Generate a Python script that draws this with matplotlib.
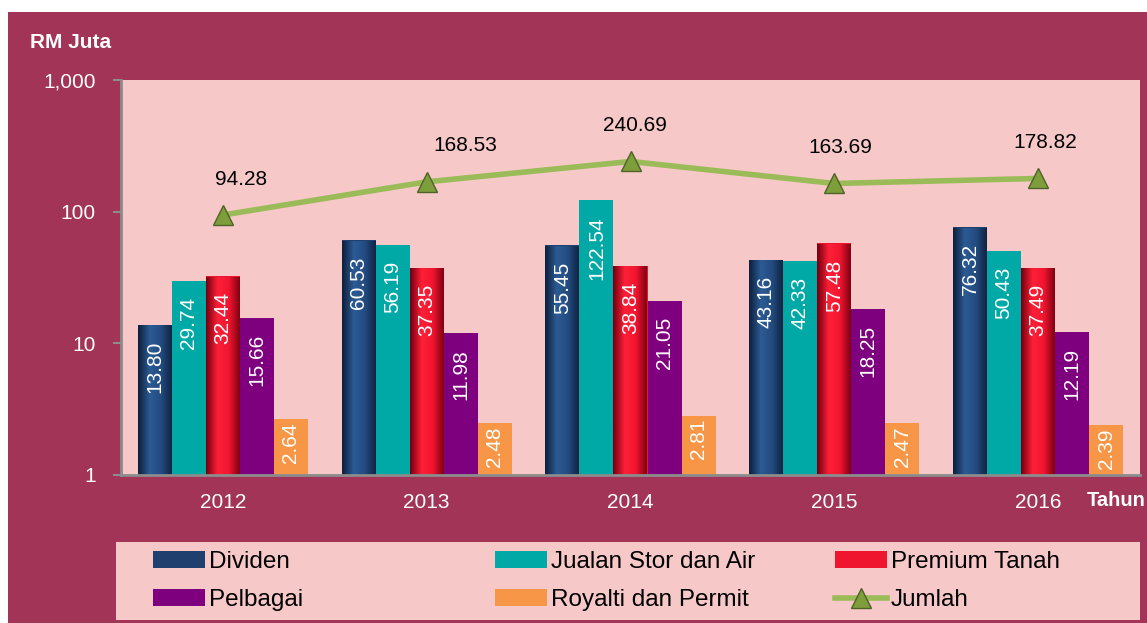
import numpy as np
import matplotlib.pyplot as plt
from matplotlib.patches import Rectangle
from matplotlib.colors import LinearSegmentedColormap

plt.rcParams['font.family'] = ['Liberation Sans', 'DejaVu Sans']

# data
tahun = ['2012', '2013', '2014', '2015', '2016']
dividen = [13.80, 60.53, 55.45, 43.16, 76.32]
jualan = [29.74, 56.19, 122.54, 42.33, 50.43]
premium = [32.44, 37.35, 38.84, 57.48, 37.49]
pelbagai = [15.66, 11.98, 21.05, 18.25, 12.19]
royalti = [2.64, 2.48, 2.81, 2.47, 2.39]
jumlah = [94.28, 168.53, 240.69, 163.69, 178.82]

siri = [
    ('Dividen', dividen, '#1F3F6E'),
    ('Jualan Stor dan Air', jualan, '#00A9A6'),
    ('Premium Tanah', premium, '#F0152F'),
    ('Pelbagai', pelbagai, '#7F007F'),
    ('Royalti dan Permit', royalti, '#F79646'),
]

MAROON = '#A13457'
PINK = '#F7C8C8'

fig = plt.figure(figsize=(11.47, 6.23), dpi=100, facecolor='white')
W, H = 1147, 623
fig.patches.append(Rectangle((8 / W, 0), 1, 1 - 12 / H, transform=fig.transFigure,
                             facecolor=MAROON, edgecolor='none', zorder=-5))
# legend box background
fig.patches.append(Rectangle((116 / W, 1 - 620 / H), (1140 - 116) / W, (620 - 542) / H,
                             transform=fig.transFigure, facecolor=PINK, edgecolor='none',
                             zorder=-4))

ax = fig.add_axes([121 / W, 1 - 475 / H, (1140 - 121) / W, (475 - 80) / H])
ax.set_facecolor(PINK)
ax.set_yscale('log')

x = np.arange(len(tahun))
lebar = 0.167

# gradient for the shaded (cylinder) bars
gradien = {
    'Dividen': ['#0E2240', '#2C5B94', '#234B80', '#0E2240'],
    'Premium Tanah': ['#7A0010', '#FF2038', '#F0152F', '#7A0010'],
}

semua_bar = []
for i, (nama, nilai, warna) in enumerate(siri):
    pos = x + (i - 2) * lebar
    bars = ax.bar(pos, np.array(nilai) - 1, width=lebar, color=warna, bottom=1, label=nama,
                  zorder=2, linewidth=0)
    if nama in gradien:
        cmap = LinearSegmentedColormap.from_list('g', gradien[nama])
        for b in bars:
            x0 = b.get_x()
            img = ax.imshow(np.linspace(0, 1, 64).reshape(1, -1), cmap=cmap, aspect='auto',
                            extent=(x0, x0 + b.get_width(), 1, b.get_y() + b.get_height()),
                            zorder=2.5, interpolation='bilinear')
            img.set_clip_path(b)
    for b, v in zip(bars, nilai):
        tinggi_px = 131 * np.log10(v)
        off = -16 if tinggi_px > 100 else -3
        ax.annotate(f'{v:.2f}', (b.get_x() + b.get_width() / 2, v), xytext=(0, off),
                    textcoords='offset pixels', rotation=90, ha='center', va='top',
                    color='white', fontsize=15, zorder=4)
    semua_bar.append(bars)

garis, = ax.plot(x, jumlah, color='#9BBB59', lw=4, marker='^', markersize=15,
                 markerfacecolor='#7E9E3C', markeredgecolor='#4F6228', markeredgewidth=1,
                 label='Jumlah', zorder=5)
geser = [18, 39, 4, 6, 7]
for xi, v, g in zip(x, jumlah, geser):
    ax.annotate(f'{v:.2f}', (xi, v), xytext=(g, 36), textcoords='offset pixels',
                ha='center', va='center', color='black', fontsize=15, zorder=6)

ax.set_xlim(-0.5, 4.5)
ax.set_ylim(1, 1000)
ax.set_yticks([1, 10, 100, 1000])
ax.set_yticklabels(['1', '10', '100', '1,000'])
ax.yaxis.set_minor_locator(plt.NullLocator())
ax.set_xticks(x)
ax.set_xticklabels(tahun)
ax.tick_params(axis='x', length=0, pad=13, labelcolor='white', labelsize=15)
ax.tick_params(axis='y', length=6, color='#8C8C8C', width=1.5, pad=12,
               labelcolor='white', labelsize=15)
for s in ['top', 'right']:
    ax.spines[s].set_visible(False)
for s in ['left', 'bottom']:
    ax.spines[s].set_color('#8C8C8C')
    ax.spines[s].set_linewidth(2)

fig.text(30 / W, 1 - 43 / H, 'RM Juta', color='white', fontsize=15, fontweight='bold',
         va='center', ha='left')
fig.text(1087 / W, 1 - 500 / H, 'Tahun', color='white', fontsize=14.5, fontweight='bold',
         va='center', ha='left')

# legend: three columns placed like the original
kolom = [
    ([semua_bar[0], semua_bar[3]], [siri[0][0], siri[3][0]], 153),
    ([semua_bar[1], semua_bar[4]], [siri[1][0], siri[4][0]], 495),
    ([semua_bar[2], garis], [siri[2][0], 'Jumlah'], 835),
]
for hs, ls, xp in kolom:
    leg = fig.legend(hs, ls, loc='upper left', bbox_to_anchor=(xp / W, 1 - 551 / H),
                     frameon=False, fontsize=17.5, handlelength=2.15, handleheight=0.7,
                     handletextpad=0.15, borderpad=0, labelspacing=0.66, borderaxespad=0)

fig.savefig('out.png', dpi=100, facecolor=fig.get_facecolor())
